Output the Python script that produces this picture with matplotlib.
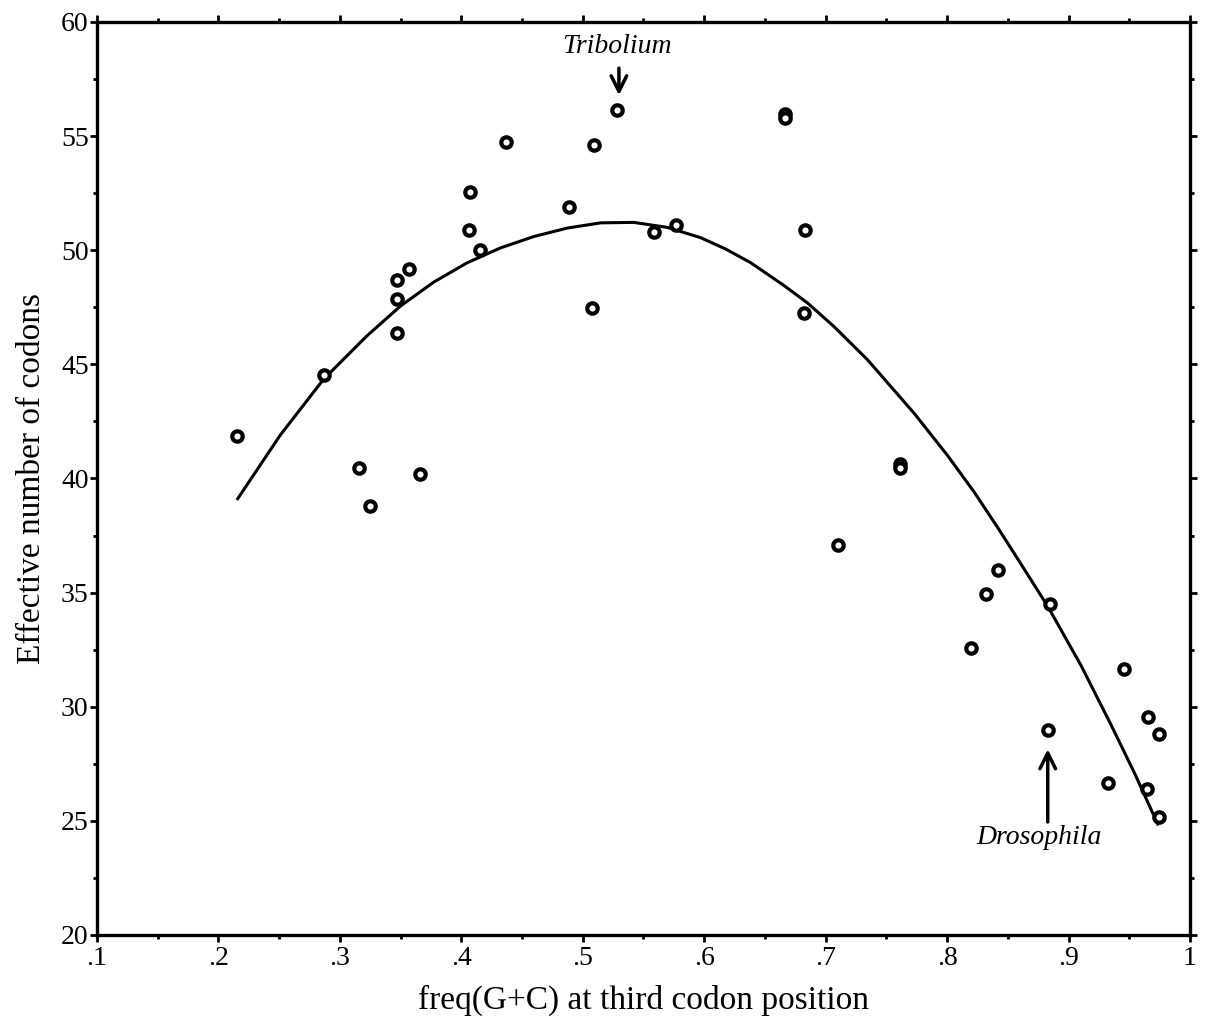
import numpy as np
import matplotlib
matplotlib.use('Agg')
import matplotlib.pyplot as plt
from matplotlib.ticker import MultipleLocator, FuncFormatter

# observed points: freq(G+C) at 3rd position vs effective number of codons
gc3 = [0.2152, 0.2866, 0.3157, 0.3245, 0.3471, 0.3566, 0.3471, 0.3471, 0.3657,
       0.4069, 0.4064, 0.4152, 0.4372, 0.4883, 0.5092, 0.5279, 0.5078, 0.5586,
       0.5771, 0.6664, 0.6664, 0.6831, 0.6823, 0.7612, 0.7612, 0.7106, 0.8417,
       0.8318, 0.8197, 0.8851, 0.8834, 0.9453, 0.9656, 0.9747, 0.9324, 0.9645,
       0.9747]
enc = [41.87, 44.54, 40.45, 38.81, 48.70, 49.17, 47.88, 46.39, 40.19,
       52.55, 50.90, 50.00, 54.74, 51.91, 54.63, 56.13, 47.49, 50.80,
       51.10, 55.95, 55.80, 50.89, 47.27, 40.62, 40.45, 37.09, 35.99,
       34.95, 32.59, 34.49, 28.96, 31.65, 29.54, 28.81, 26.65, 26.39,
       25.19]

# fitted curve
curve_x = [0.2152, 0.2509, 0.2866, 0.3223, 0.3498, 0.3772, 0.4048, 0.4322,
           0.4597, 0.4872, 0.5147, 0.5421, 0.5697, 0.5971, 0.6178, 0.6384,
           0.6658, 0.6851, 0.7070, 0.7345, 0.7730, 0.8005, 0.8224, 0.8417,
           0.8609, 0.8829, 0.9104, 0.9351, 0.9543, 0.9740]
curve_y = [39.06, 41.90, 44.35, 46.25, 47.55, 48.60, 49.45, 50.10,
           50.60, 50.97, 51.20, 51.22, 51.00, 50.55, 50.05, 49.45,
           48.45, 47.69, 46.65, 45.20, 42.85, 41.00, 39.40, 37.85,
           36.25, 34.40, 31.80, 29.20, 27.10, 24.80]

plt.rcParams['font.family'] = 'Liberation Serif'

fig = plt.figure(figsize=(12.05, 10.32), dpi=100)
ax = fig.add_axes([0.0805, 0.094, 0.907, 0.8847])

ax.plot(curve_x, curve_y, color='black', lw=2.2, solid_capstyle='butt',
        solid_joinstyle='round')
ax.plot(gc3, enc, 'o', ms=7.5, mfc='white', mec='black', mew=3.0)

ax.set_xlim(0.1, 1.0)
ax.set_ylim(20, 60)
ax.xaxis.set_major_locator(MultipleLocator(0.1))
ax.xaxis.set_minor_locator(MultipleLocator(0.05))
ax.yaxis.set_major_locator(MultipleLocator(5))
ax.yaxis.set_minor_locator(MultipleLocator(2.5))

def xfmt(v, pos):
    if abs(v - 1) < 1e-6:
        return '1'
    return ('%.1f' % v).lstrip('0')

ax.xaxis.set_major_formatter(FuncFormatter(xfmt))
ax.tick_params(which='both', direction='out', top=True, right=True,
               width=2, labelsize=20, pad=3)
ax.tick_params(which='major', length=5)
ax.tick_params(which='minor', length=3)
ax.tick_params(axis='y', pad=1)
for s in ax.spines.values():
    s.set_linewidth(2.4)

ax.set_xlabel('freq(G+C) at third codon position', fontsize=24, labelpad=10)
ax.set_ylabel('Effective number of codons', fontsize=24, labelpad=10)

ax.annotate('', xy=(0.5298, 56.67), xytext=(0.5298, 58.10),
            arrowprops=dict(arrowstyle='->', lw=2.5, mutation_scale=28, color='black'))
ax.text(0.528, 58.92, 'Tribolium', style='italic', fontsize=20,
        ha='center', va='center')

ax.annotate('', xy=(0.8829, 28.26), xytext=(0.8829, 24.83),
            arrowprops=dict(arrowstyle='->', lw=2.5, mutation_scale=28, color='black'))
ax.text(0.8758, 24.26, 'Drosophila', style='italic', fontsize=20,
        ha='center', va='center')

fig.savefig('out.png', dpi=100)
